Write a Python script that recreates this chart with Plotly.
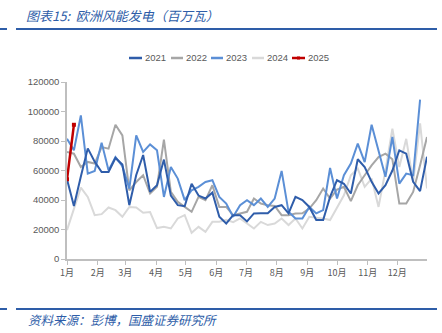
import plotly.graph_objects as go

# ---------------- data (weekly, MW) ----------------
series_names = ["2021", "2022", "2023", "2024", "2025"]

y2021 = [54000, 36000, 56000, 75000, 66000, 59000, 59000, 68500, 64000, 36500,
         57000, 70500, 45500, 50000, 67400, 43000, 36500, 35800, 51000, 43000,
         41000, 45000, 28600, 24100, 29700, 29700, 25500, 30900, 31000, 31000,
         35300, 36500, 30900, 42100, 39900, 35300, 26400, 26400, 42100, 53400,
         51000, 44400, 67600, 62400, 52300, 44400, 50000, 60000, 73700, 71400,
         52300, 46000, 69300]
y2022 = [72500, 71400, 62400, 65800, 64700, 75900, 74800, 91000, 83800, 46600,
         52200, 56800, 44400, 49000, 80900, 45500, 38700, 35300, 32000, 42100,
         39900, 50000, 35300, 35300, 29700, 30900, 32000, 41000, 37600, 36500,
         36000, 29700, 29700, 30900, 31000, 34200, 39900, 47800, 41000, 47000,
         48900, 39200, 50000, 56800, 63500, 69100, 71400, 67600, 37600, 37600,
         45500, 63500, 82700]
y2023 = [81500, 73700, 97300, 57900, 59700, 78900, 60100, 69100, 63000, 47800,
         83800, 72600, 77700, 73700, 42100, 62400, 54500, 39900, 46600, 48900,
         52200, 53400, 42100, 37600, 28600, 36500, 39900, 36500, 41000, 35300,
         41000, 59700, 32000, 27500, 27500, 35300, 30900, 33100, 61700, 41000,
         56800, 64700, 78200, 65700, 91000, 73700, 55700, 82700, 51100, 57900,
         56800, 108000]
y2024 = [19600, 34300, 48400, 42100, 29700, 30400, 34900, 33100, 28600, 35300,
         34900, 31300, 31800, 21000, 21800, 20700, 27500, 29700, 17800, 21800,
         18400, 25200, 25200, 26500, 25000, 27500, 24100, 20700, 25200, 23000,
         24000, 27500, 23000, 27500, 20700, 28600, 28000, 27500, 26400, 35000,
         43200, 56800, 61300, 48900, 54500, 35300, 60000, 88300, 62400, 81500,
         52300, 92000, 47800]
y2025 = [54000, 91000]

month_labels = ["1月", "2月", "3月", "4月", "5月", "6月", "7月", "8月", "9月", "10月", "11月", "12月"]
month_start_day = [0, 31, 59, 90, 120, 151, 181, 212, 243, 273, 304, 334]
y_ticks = [0, 20000, 40000, 60000, 80000, 100000, 120000]

colors = {"2021": "#2F5DAA", "2022": "#A6A6A6", "2023": "#5B8FD6",
          "2024": "#D9D9D9", "2025": "#C00000"}

# ---------------- figure ----------------
W, H = 442, 333
L, R, T, B = 67, 15, 82, 74
PW, PH = W - L - R, H - T - B


def px(x):
    return (x - L) / PW


def py(y):
    return (H - B - y) / PH


FONT = "Liberation Sans, Arial, Noto Sans CJK SC, sans-serif"
CJK = "Noto Sans CJK SC, sans-serif"
BLUE = "#2E5DA8"
TXT = "#595959"

fig = go.Figure()
data_map = {"2021": y2021, "2022": y2022, "2023": y2023, "2024": y2024}
for name in ["2024", "2022", "2023", "2021"]:
    vals = data_map[name]
    fig.add_trace(go.Scatter(x=list(range(len(vals))), y=vals, mode="lines",
                             line=dict(color=colors[name], width=2),
                             name=name, showlegend=False))
fig.add_trace(go.Scatter(x=list(range(len(y2025))), y=y2025, mode="lines+markers",
                         line=dict(color=colors["2025"], width=2.5),
                         marker=dict(symbol="square", size=4, color=colors["2025"]),
                         name="2025", showlegend=False))

fig.update_layout(
    width=W, height=H,
    margin=dict(l=L, r=R, t=T, b=B, pad=0),
    paper_bgcolor="white", plot_bgcolor="white",
    font=dict(family=FONT, size=9, color=TXT),
    xaxis=dict(range=[0, 52], tickmode="array",
               tickvals=[d / 7 for d in month_start_day], ticktext=month_labels,
               showgrid=False, zeroline=False, showline=True,
               linecolor="#BFBFBF", linewidth=1.5,
               ticks="outside", ticklen=4, tickcolor="#BFBFBF",
               tickfont=dict(family=CJK, size=9, color=TXT)),
    yaxis=dict(range=[0, 120000], tickmode="array", tickvals=y_ticks,
               ticktext=[str(v) for v in y_ticks],
               showgrid=False, zeroline=False, showline=True,
               linecolor="#BFBFBF", linewidth=1.5,
               ticks="outside", ticklen=4, tickcolor="#BFBFBF",
               tickfont=dict(family=FONT, size=9.5, color=TXT)),
)

shapes = []
annotations = []
# header / footer rules
for yy in (29, 309):
    shapes.append(dict(type="line", xref="paper", yref="paper",
                       x0=px(0), x1=px(7), y0=py(yy), y1=py(yy),
                       line=dict(color=BLUE, width=2)))
    shapes.append(dict(type="line", xref="paper", yref="paper",
                       x0=px(16), x1=px(437), y0=py(yy), y1=py(yy),
                       line=dict(color=BLUE, width=2)))

annotations.append(dict(text="<i>图表15:  欧洲风能发电（百万瓦）</i>", xref="paper", yref="paper",
                        x=px(24), y=py(15), xanchor="left", yanchor="middle",
                        showarrow=False, font=dict(family=CJK, size=13, color=BLUE)))
annotations.append(dict(text="<i>资料来源：彭博，国盛证券研究所</i>", xref="paper", yref="paper",
                        x=px(26), y=py(319), xanchor="left", yanchor="middle",
                        showarrow=False, font=dict(family=CJK, size=12.5, color=BLUE)))

# manual legend
leg_y = 58
leg_items = [("2021", 129, 142), ("2022", 171, 183), ("2023", 211, 223),
             ("2024", 252, 264), ("2025", 292, 305)]
for name, x0, x1 in leg_items:
    shapes.append(dict(type="line", xref="paper", yref="paper",
                       x0=px(x0), x1=px(x1), y0=py(leg_y), y1=py(leg_y),
                       line=dict(color=colors[name], width=2.5)))
    annotations.append(dict(text=name, xref="paper", yref="paper",
                            x=px(x1 + 1), y=py(leg_y), xanchor="left", yanchor="middle",
                            showarrow=False, font=dict(family=FONT, size=9.5, color=TXT)))
shapes.append(dict(type="rect", xref="paper", yref="paper",
                   x0=px(297), x1=px(300), y0=py(leg_y + 1.5), y1=py(leg_y - 1.5),
                   fillcolor=colors["2025"], line=dict(width=0)))

fig.update_layout(shapes=shapes, annotations=annotations)
fig.write_html("out.html")
